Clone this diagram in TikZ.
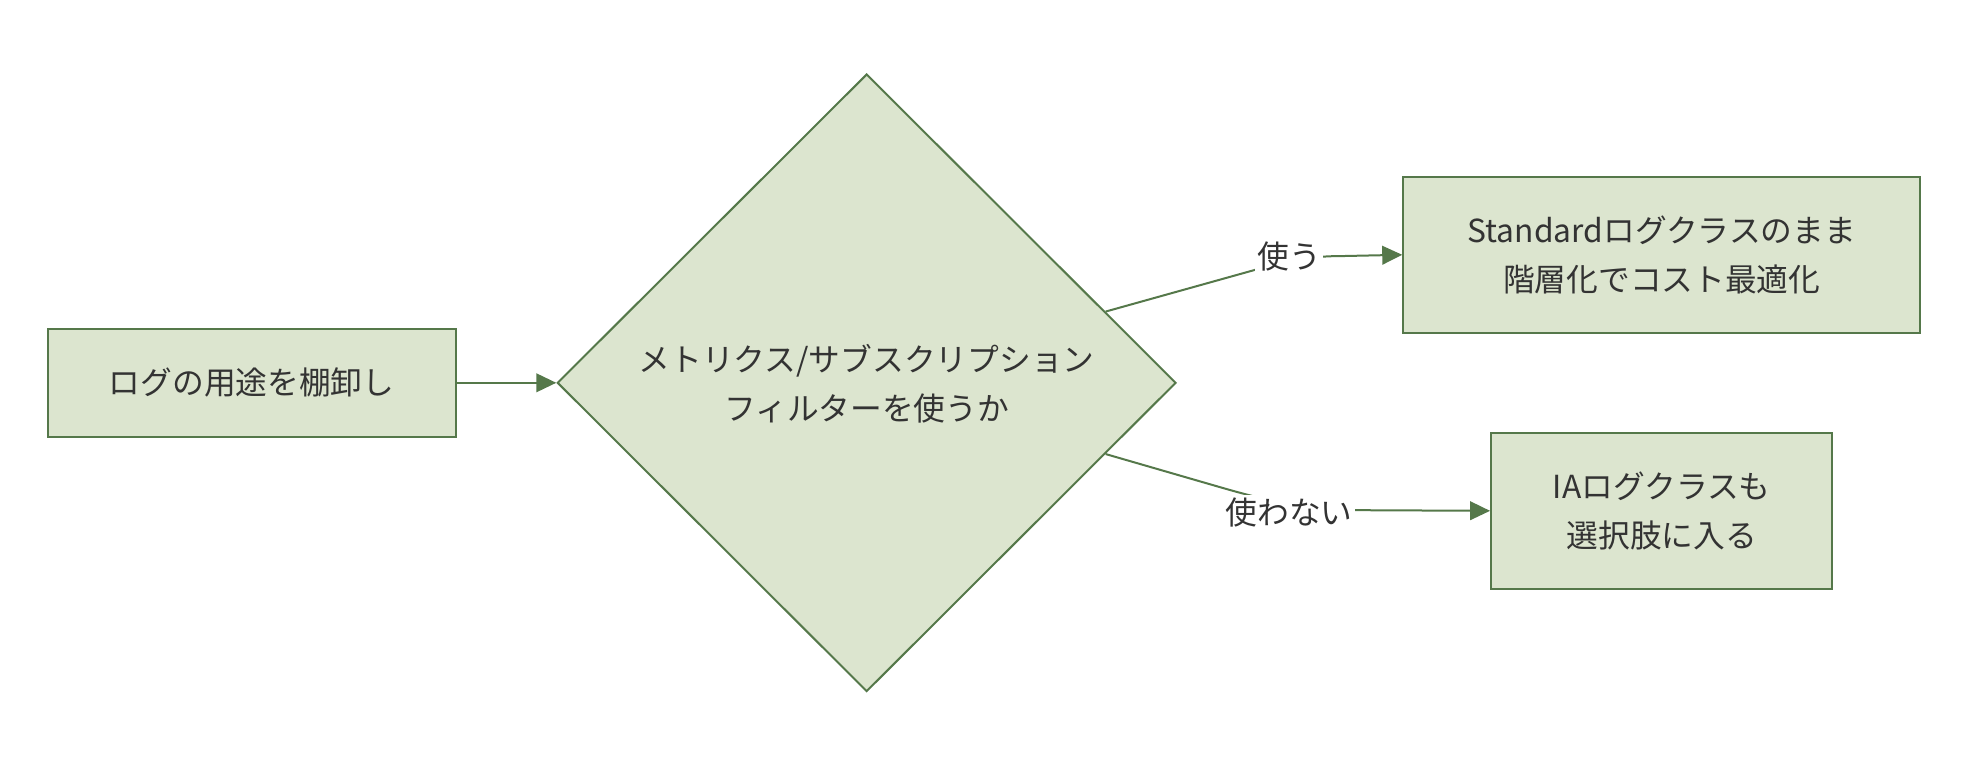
\documentclass[tikz,border=0pt]{standalone}
\usepackage{fontspec}
\setmainfont{Noto Sans CJK JP}
\usetikzlibrary{shapes.geometric,arrows.meta,calc}
\definecolor{boxfill}{HTML}{DCE5CF}
\definecolor{boxline}{HTML}{55784A}
\definecolor{txt}{HTML}{333333}
\newdimen\px
\px=0.9413pt
\tikzset{
  basefont/.style={font=\fontsize{23.8pt}{36.6pt}\selectfont},
  procbox/.style={draw=boxline, fill=boxfill, line width=1.5pt, rectangle, inner sep=0pt, align=center, text=txt, basefont},
  decision/.style={draw=boxline, fill=boxfill, line width=1.5pt, diamond, aspect=1, inner sep=0pt, minimum width=493\px, minimum height=492\px},
  plain/.style={align=center, text=txt, inner sep=0pt, basefont},
  edgelabel/.style={fill=white, text=txt, inner sep=2pt, basefont},
  conn/.style={draw=boxline, line width=1.5pt, -{Triangle[length=15pt,width=14pt]}, fill=none},
}
\begin{document}
\begin{tikzpicture}[x=0.9413pt,y=-0.9413pt]
\useasboundingbox (0,0) rectangle (1568,615.1);
\node[procbox, minimum width=325\px, minimum height=86\px] (b1) at (200.5,305) {ログの用途を棚卸し};
\node[decision] (d) at (690.5,305) {};
\node[plain] (dt) at (690.5,305.5) {メトリクス/サブスクリプション\\フィルターを使うか};
\node[procbox, minimum width=412\px, minimum height=124\px] (b2) at (1324,203) {Standardログクラスのまま\\階層化でコスト最適化};
\node[procbox, minimum width=272\px, minimum height=124\px] (b3) at (1324,407) {IAログクラスも\\選択肢に入る};

\coordinate (s1) at ($(d.east)!0.23!(d.north)$);
\coordinate (s2) at ($(d.east)!0.23!(d.south)$);

\draw[conn] (b1.east) -- (d.west);
\draw[conn] (s1) -- (1000,215) .. controls (1030,207) and (1045,204) .. (1070,204) -- (b2.west);
\draw[conn] (s2) -- (975,389) .. controls (1010,399) and (1040,406) .. (1085,406.5) -- (b3.west);

\node[edgelabel] (l1) at (1027,204) {使う};
\node[edgelabel] (l2) at (1027,408) {使わない};
\end{tikzpicture}
\end{document}
